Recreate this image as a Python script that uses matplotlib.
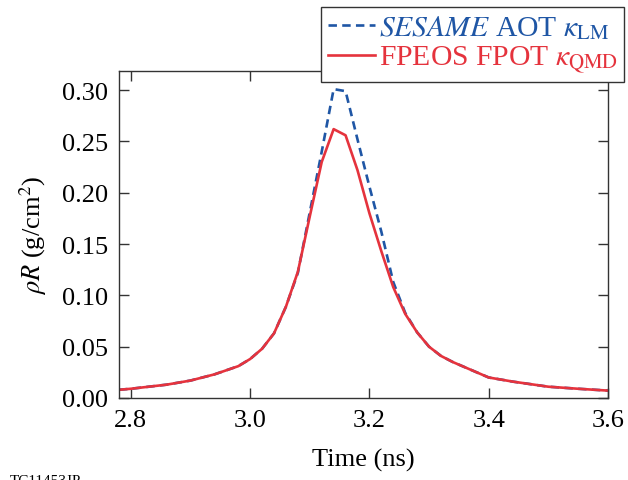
import numpy as np
import matplotlib
matplotlib.use('Agg')
import matplotlib.pyplot as plt

plt.rcParams['font.family'] = ['Liberation Serif', 'DejaVu Serif']
plt.rcParams['mathtext.fontset'] = 'stix'

# time (ns) and areal density (g/cm^2)
time_ns = [2.78, 2.80, 2.86, 2.90, 2.94, 2.96, 2.98, 3.00, 3.02, 3.04, 3.06, 3.08,
           3.10, 3.12, 3.14, 3.16, 3.18, 3.20, 3.22, 3.24, 3.26, 3.28, 3.30, 3.32,
           3.34, 3.40, 3.44, 3.50, 3.55, 3.60]
rhoR_sesame = [0.0080, 0.0090, 0.013, 0.017, 0.023, 0.027, 0.031, 0.038, 0.048, 0.063,
               0.089, 0.122, 0.181, 0.240, 0.301, 0.299, 0.252, 0.206, 0.162, 0.113,
               0.083, 0.064, 0.050, 0.041, 0.035, 0.020, 0.016, 0.011, 0.009, 0.0072]
rhoR_fpeos = [0.0080, 0.0090, 0.013, 0.017, 0.023, 0.027, 0.031, 0.038, 0.048, 0.063,
              0.089, 0.123, 0.177, 0.230, 0.262, 0.256, 0.222, 0.180, 0.143, 0.108,
              0.082, 0.064, 0.050, 0.041, 0.035, 0.020, 0.016, 0.011, 0.009, 0.0072]

blue = '#1f56a5'
red = '#e5333d'

fig = plt.figure(figsize=(6.28, 4.81), dpi=100)
ax = fig.add_axes([0.1895, 0.1705, 0.7785, 0.6795])

ax.plot(time_ns, rhoR_sesame, color=blue, lw=1.9, ls='--', dashes=(3.2, 2),
        label=r'$\it{SESAME}$ AOT $\kappa_{\rm LM}$')
ax.plot(time_ns, rhoR_fpeos, color=red, lw=1.9,
        label=r'FPEOS FPOT $\kappa_{\rm QMD}$')

ax.set_xlim(2.78, 3.6)
ax.set_ylim(0, 0.3185)
ax.set_xticks([2.8, 3.0, 3.2, 3.4, 3.6])
ax.set_yticks([0.0, 0.05, 0.10, 0.15, 0.20, 0.25, 0.30])
ax.set_yticklabels(['0.00', '0.05', '0.10', '0.15', '0.20', '0.25', '0.30'])
ax.tick_params(direction='in', top=True, right=True, length=7, width=1,
               labelsize=19, pad=8, colors='#333333', labelcolor='black')
for s in ax.spines.values():
    s.set_linewidth(1)
    s.set_color('#333333')

ax.set_xlabel('Time (ns)', fontsize=19, labelpad=12)
ax.set_ylabel(r'$\rho R$ (g/cm$^2$)', fontsize=19, labelpad=9)

leg = ax.legend(loc='upper right', bbox_to_anchor=(1.033, 1.196), fontsize=21.3,
                labelcolor='linecolor', frameon=True, fancybox=False,
                handlelength=1.6, handletextpad=0.12, borderpad=0.22,
                labelspacing=0.08, borderaxespad=0)
leg.get_frame().set_edgecolor('#333333')
leg.get_frame().set_linewidth(1)
leg.get_frame().set_alpha(1)
leg.set_zorder(5)

fig.text(0.015, 0.0125, 'TC11453JP', fontsize=11, va='top', ha='left')

fig.savefig('out.png', dpi=100)
